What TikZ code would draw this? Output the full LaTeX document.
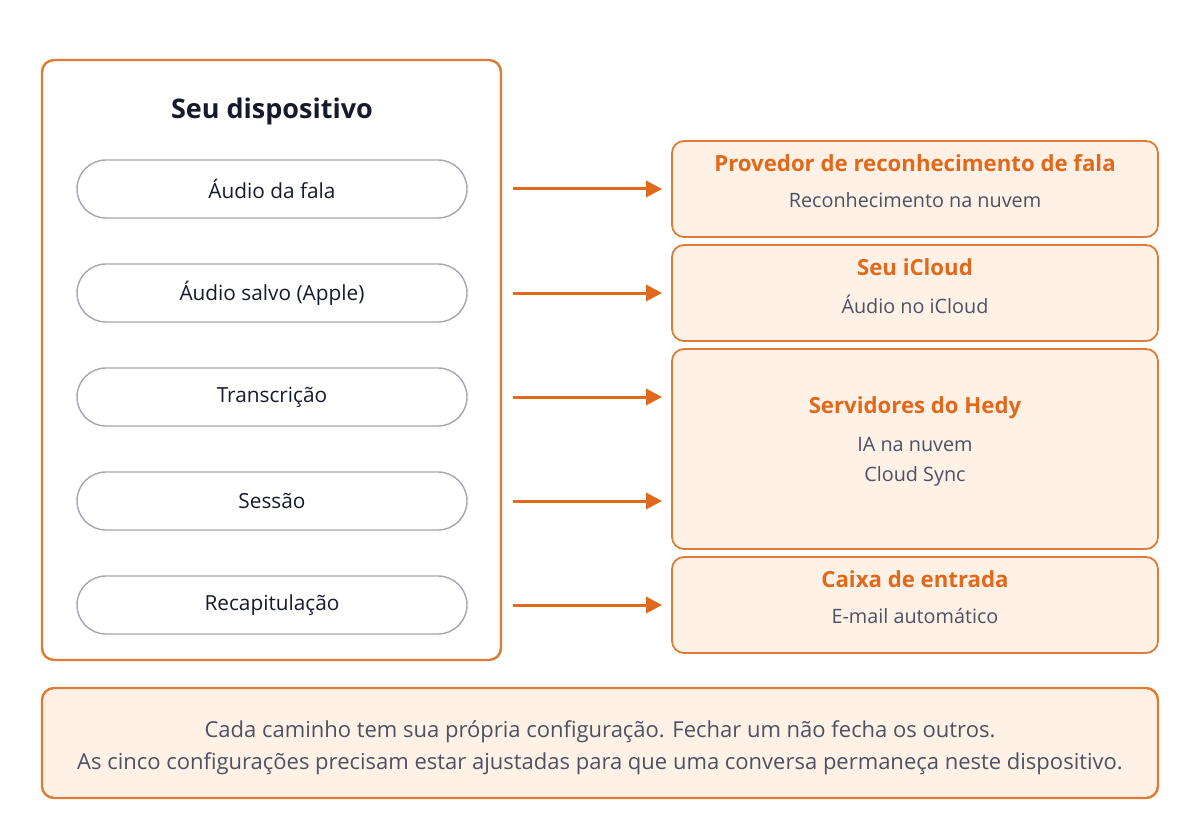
\documentclass[tikz,border=0pt]{standalone}
\usepackage{fontspec}
\setmainfont{Open Sans}
\usetikzlibrary{arrows.meta,positioning}

\definecolor{hedyorange}{HTML}{E0691B}
\definecolor{boxline}{HTML}{E07B35}
\definecolor{boxfill}{HTML}{FFF1E6}
\definecolor{pillline}{HTML}{A3A7AF}
\definecolor{ink}{HTML}{161B2B}
\definecolor{greytext}{HTML}{4B5262}

\tikzset{
  devicebox/.style={draw=boxline, line width=1.2pt, fill=white, rounded corners=6pt},
  pill/.style={draw=pillline, line width=0.7pt, fill=white, rounded corners=14.5pt,
    minimum width=195pt, minimum height=29pt, text=ink, font=\fontsize{10.4}{12}\selectfont},
  target/.style={draw=boxline, line width=0.9pt, fill=boxfill, rounded corners=6pt,
    minimum width=243pt, minimum height=48pt, inner sep=0pt},
  head/.style={text=hedyorange, font=\bfseries\fontsize{11.1}{13}\selectfont},
  sub/.style={text=greytext, font=\fontsize{9.9}{11}\selectfont},
  flow/.style={-{Triangle[length=8pt,width=8pt]}, draw=hedyorange, line width=1.5pt,
    shorten <=22.5pt, shorten >=4.5pt}
}

\begin{document}
\begin{tikzpicture}[x=0.5pt, y=-0.5pt]
  \useasboundingbox (0,0) rectangle (1200,840);

  % left side: the device
  \node[devicebox, minimum width=229.5pt, minimum height=300pt] (device) at (271.5,360) {};
  \node[text=ink, font=\bfseries\fontsize{13.5}{15}\selectfont] (devtitle) at (272,111) {Seu dispositivo};

  \node[pill] (fala)   at (272,189) {Áudio da fala};
  \node[pill] (salvo)  at (272,293) {Áudio salvo (Apple)};
  \node[pill] (transc) at (272,397) {Transcrição};
  \node[pill] (sessao) at (272,501) {Sessão};
  \node[pill] (recap)  at (272,605) {Recapitulação};

  % right side: where the data goes
  \node[target] (prov) at (915,189) {};
  \node[head] at ([yshift=-11.5pt]prov.north) {Provedor de reconhecimento de fala};
  \node[sub]  at ([yshift=-30pt]prov.north) {Reconhecimento na nuvem};

  \node[target] (icloud) at (915,293) {};
  \node[head] at ([yshift=-11.5pt]icloud.north) {Seu iCloud};
  \node[sub]  at ([yshift=-30pt]icloud.north) {Áudio no iCloud};

  \node[target, minimum height=100pt] (hedy) at (915,449) {};
  \node[head] at ([yshift=-30pt]hedy.north) {Servidores do Hedy};
  \node[sub]  at ([yshift=-48pt]hedy.north) {IA na nuvem};
  \node[sub]  at ([yshift=-64pt]hedy.north) {Cloud Sync};

  \node[target] (caixa) at (915,605) {};
  \node[head] at ([yshift=-11.5pt]caixa.north) {Caixa de entrada};
  \node[sub]  at ([yshift=-30pt]caixa.north) {E-mail automático};

  % connectors
  \draw[flow] (fala.east)   -- (fala -| prov.west);
  \draw[flow] (salvo.east)  -- (salvo -| icloud.west);
  \draw[flow] (transc.east) -- (transc -| hedy.west);
  \draw[flow] (sessao.east) -- (sessao -| hedy.west);
  \draw[flow] (recap.east)  -- (recap -| caixa.west);

  % note at the bottom
  \node[target, line width=1.2pt, minimum width=558pt, minimum height=55pt] (note) at (600,743) {};
  \node[sub, align=center, font=\fontsize{11}{16}\selectfont] at ([yshift=-2.5pt]note.center)
    {Cada caminho tem sua própria configuração. Fechar um não fecha os outros.\\
     As cinco configurações precisam estar ajustadas para que uma conversa permaneça neste dispositivo.};
\end{tikzpicture}
\end{document}
